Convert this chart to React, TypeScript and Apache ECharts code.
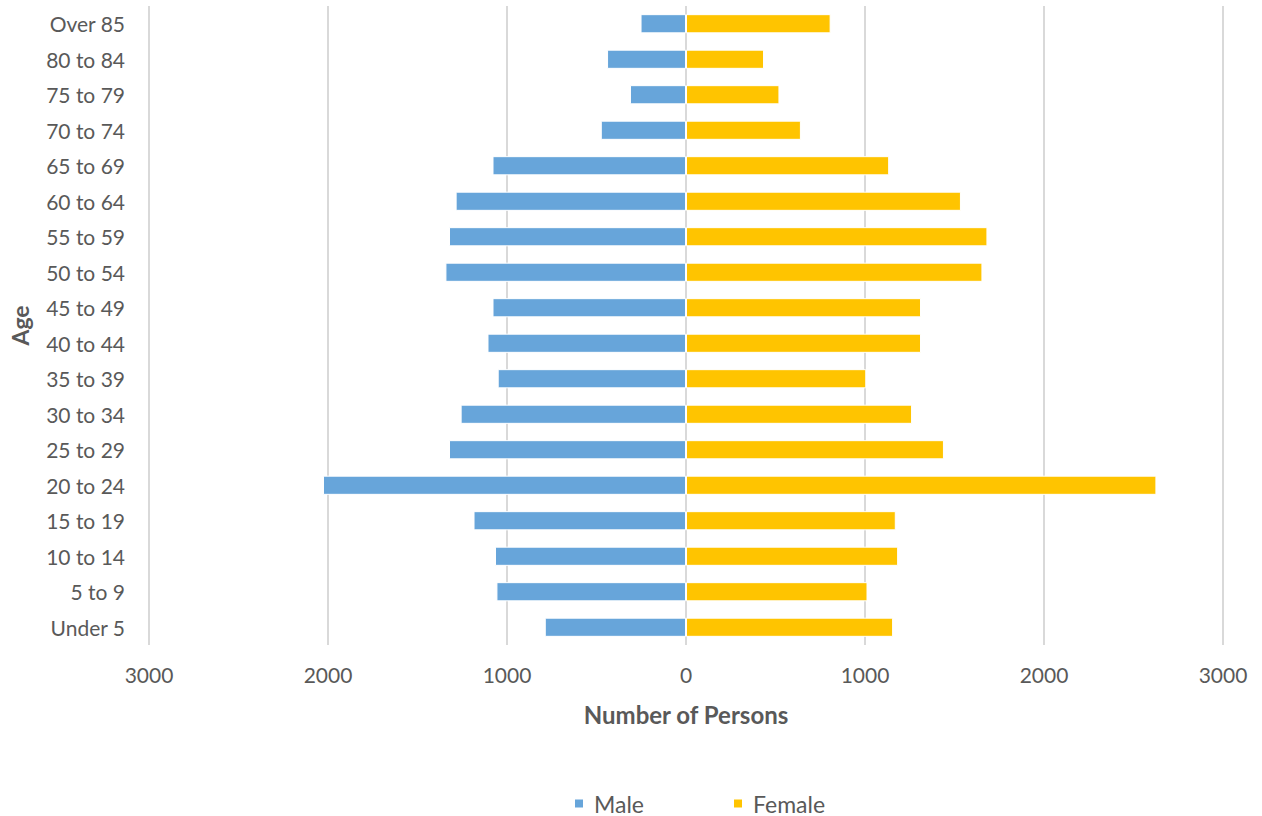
import React, { useEffect, useRef } from "react";
import * as echarts from "echarts";

// Age groups, youngest first (drawn bottom to top)
const ageGroups = [
  "Under 5", "5 to 9", "10 to 14", "15 to 19", "20 to 24", "25 to 29",
  "30 to 34", "35 to 39", "40 to 44", "45 to 49", "50 to 54", "55 to 59",
  "60 to 64", "65 to 69", "70 to 74", "75 to 79", "80 to 84", "Over 85",
];

const malePersons = [
  789, 1059, 1067, 1187, 2028, 1324, 1259, 1052, 1109, 1081, 1344, 1324,
  1287, 1081, 476, 313, 441, 254,
];

const femalePersons = [
  1157, 1014, 1185, 1172, 2628, 1441, 1263, 1007, 1313, 1313, 1656, 1684,
  1536, 1135, 642, 522, 436, 808,
];

const axisTicks = { min: -3000, max: 3000, interval: 1000 };

const FONT = "Lato, 'Open Sans', sans-serif";
const GREY = "#595959";

export default function App() {
  const ref = useRef<HTMLDivElement>(null);

  useEffect(() => {
    if (!ref.current) return;
    const chart = echarts.init(ref.current, undefined, { renderer: "svg" });
    chart.setOption({
      animation: false,
      backgroundColor: "#ffffff",
      textStyle: { fontFamily: FONT },
      grid: { left: 145, right: 39, top: 6, bottom: 171, containLabel: false },
      legend: {
        top: 792,
        left: 573,
        padding: 0,
        itemWidth: 10,
        itemHeight: 10,
        itemGap: 88,
        icon: "rect",
        textStyle: {
          color: GREY,
          fontSize: 23,
          lineHeight: 22,
          fontFamily: FONT,
          padding: [0, 0, 0, 5],
        },
        data: ["Male", "Female"],
      },
      xAxis: {
        type: "value",
        min: axisTicks.min,
        max: axisTicks.max,
        interval: axisTicks.interval,
        name: "Number of Persons",
        nameLocation: "middle",
        nameGap: 57,
        nameTextStyle: { color: GREY, fontSize: 24, fontWeight: "bold", fontFamily: FONT },
        axisLine: { show: false },
        axisTick: { show: false },
        axisLabel: {
          color: GREY,
          fontSize: 21,
          margin: 19,
          formatter: (v: number) => String(Math.abs(v)),
        },
        splitLine: { show: true, lineStyle: { color: "#d9d9d9", width: 2 } },
      },
      yAxis: {
        type: "category",
        data: ageGroups,
        name: "Age",
        nameLocation: "middle",
        nameGap: 118,
        nameRotate: 90,
        nameTextStyle: { color: GREY, fontSize: 23, fontWeight: "bold", fontFamily: FONT },
        axisLine: { show: false },
        axisTick: { show: false },
        axisLabel: { color: GREY, fontSize: 21, margin: 24 },
        splitLine: { show: false },
      },
      series: [
        {
          name: "Male",
          type: "bar",
          stack: "pop",
          barCategoryGap: "46%",
          itemStyle: { color: "#67A5DA", borderColor: "#ffffff", borderWidth: 1 },
          data: malePersons.map((v) => -v),
        },
        {
          name: "Female",
          type: "bar",
          stack: "pop",
          barCategoryGap: "46%",
          itemStyle: { color: "#FFC400", borderColor: "#ffffff", borderWidth: 1 },
          data: femalePersons,
        },
      ],
    });
    return () => chart.dispose();
  }, []);

  return (
    <div
      ref={ref}
      style={{ position: "fixed", left: 0, top: 0, width: 1262, height: 816 }}
    />
  );
}
